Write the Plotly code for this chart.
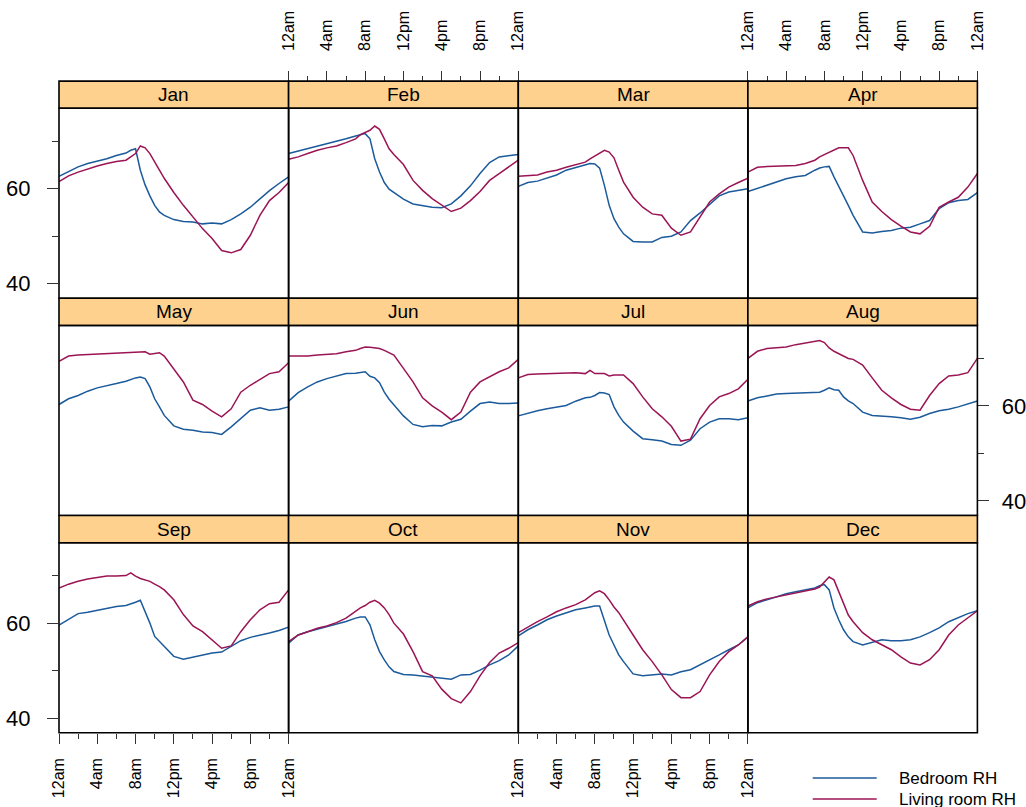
import plotly.graph_objects as go

# ---------------- data ----------------
hours = [0, 1, 2, 3, 4, 5, 6, 7, 7.5, 8, 8.5, 9, 9.5, 10, 10.5, 11,
         12, 13, 14, 15, 16, 17, 18, 19, 20, 21, 22, 23, 24]

months = ["Jan", "Feb", "Mar", "Apr", "May", "Jun",
          "Jul", "Aug", "Sep", "Oct", "Nov", "Dec"]

series_names = ["Bedroom RH", "Living room RH"]

bed_jan = [62.6, 63.65, 64.6, 65.3, 65.8, 66.3, 67.0, 67.5, 68.1, 68.4, 63.9, 60.8, 58.5, 56.5, 55.1, 54.4,
           53.5, 53.1, 53.0, 52.6, 52.8, 52.6, 53.5, 54.7, 56.1, 57.9, 59.6, 61.1, 62.5]
liv_jan = [61.5, 62.7, 63.5, 64.2, 64.8, 65.3, 65.75, 66.0, 66.7, 67.4, 69.0, 68.6, 67.4, 65.5, 63.9, 62.2,
           59.2, 56.5, 54.0, 51.6, 49.5, 47.0, 46.5, 47.2, 50.2, 54.4, 57.5, 59.2, 61.3]

bed_feb = [67.4, 67.9, 68.4, 69.0, 69.5, 70.0, 70.5, 71.1, 71.4, 71.6, 70.5, 66.3, 63.5, 61.3, 59.9, 59.2,
           57.8, 56.8, 56.5, 56.1, 56.0, 56.8, 58.5, 60.6, 63.2, 65.5, 66.7, 67.0, 67.2]
liv_feb = [66.2, 66.7, 67.4, 68.1, 68.6, 69.0, 69.7, 70.5, 71.4, 71.9, 72.3, 73.2, 72.5, 70.5, 68.4, 67.2,
           65.1, 61.75, 59.65, 57.9, 56.5, 55.2, 55.9, 57.5, 59.4, 61.75, 63.2, 64.6, 66.0]

bed_mar = [60.5, 61.3, 61.6, 62.3, 62.9, 63.9, 64.5, 65.05, 65.3, 65.2, 64.35, 60.7, 56.5, 53.7, 51.9, 50.5,
           48.9, 48.8, 48.8, 49.75, 50.0, 50.9, 53.3, 54.9, 56.8, 58.5, 59.3, 59.6, 60.0]
liv_mar = [62.6, 62.7, 62.9, 63.5, 63.9, 64.5, 65.1, 65.6, 66.3, 66.9, 67.4, 68.1, 67.7, 66.5, 63.9, 61.4,
           58.2, 56.1, 54.7, 54.4, 51.7, 50.2, 50.9, 54.0, 57.2, 58.9, 60.35, 61.3, 62.2]

bed_apr = [59.4, 60.1, 60.8, 61.5, 62.1, 62.5, 62.8, 63.9, 64.35, 64.6, 64.7, 62.5, 60.35, 58.5, 56.5, 54.4,
           50.9, 50.7, 51.0, 51.2, 51.7, 51.9, 52.6, 53.3, 55.8, 57.05, 57.5, 57.75, 59.2]
liv_apr = [63.5, 64.5, 64.7, 64.8, 64.8, 64.9, 65.3, 66.0, 66.7, 67.2, 67.6, 68.1, 68.6, 68.6, 68.6, 67.0,
           61.75, 57.2, 55.2, 53.5, 52.1, 50.9, 50.5, 52.1, 56.1, 57.2, 58.2, 60.35, 63.2]

bed_may = [60.3, 61.5, 62.2, 63.1, 63.8, 64.2, 64.7, 65.2, 65.6, 65.9, 66.1, 65.75, 64.0, 61.5, 59.8, 58.0,
           55.8, 55.1, 54.9, 54.5, 54.4, 54.0, 55.6, 57.3, 59.1, 59.6, 59.1, 59.3, 59.8]
liv_may = [69.4, 70.5, 70.7, 70.8, 70.9, 71.0, 71.2, 71.3, 71.4, 71.4, 71.4, 71.4, 70.9, 71.0, 71.2, 70.5,
           67.7, 65.05, 61.2, 60.3, 58.9, 57.7, 59.4, 62.9, 64.35, 65.6, 66.8, 67.2, 69.1]

bed_jun = [61.0, 62.8, 64.0, 65.05, 65.75, 66.3, 66.8, 66.9, 67.0, 67.2, 66.25, 65.9, 64.9, 62.9, 61.4, 60.3,
           57.9, 56.1, 55.6, 55.9, 55.8, 56.6, 57.2, 58.9, 60.5, 60.8, 60.5, 60.5, 60.6]
liv_jun = [70.5, 70.5, 70.5, 70.7, 70.8, 71.0, 71.4, 71.7, 72.1, 72.4, 72.35, 72.2, 72.1, 71.7, 71.2, 70.7,
           67.9, 65.05, 61.7, 60.0, 58.7, 57.1, 58.7, 62.9, 65.05, 66.1, 67.2, 68.0, 69.8]

bed_jul = [57.9, 58.5, 59.0, 59.4, 59.8, 60.1, 61.0, 61.7, 61.8, 62.2, 62.8, 62.7, 62.4, 59.8, 58.0, 56.6,
           54.7, 53.1, 52.9, 52.6, 51.9, 51.7, 52.8, 55.2, 56.6, 57.3, 57.3, 57.1, 57.5]
liv_jul = [65.9, 66.6, 66.7, 66.8, 66.8, 66.9, 67.0, 66.8, 67.5, 66.8, 66.8, 66.8, 66.3, 66.5, 66.5, 66.5,
           64.7, 61.9, 59.4, 57.7, 55.7, 52.6, 53.0, 57.3, 60.1, 61.9, 62.6, 63.6, 65.6]

bed_aug = [61.05, 61.7, 62.1, 62.5, 62.6, 62.7, 62.7, 62.8, 62.9, 63.3, 63.8, 63.4, 63.3, 61.9, 61.05, 60.5,
           58.7, 58.0, 57.9, 57.7, 57.5, 57.2, 57.6, 58.4, 59.0, 59.3, 59.8, 60.4, 61.05]
liv_aug = [70.0, 71.5, 72.1, 72.3, 72.4, 72.9, 73.3, 73.6, 73.75, 73.35, 72.2, 71.5, 71.0, 70.5, 70.0, 69.8,
           68.6, 65.9, 63.3, 61.7, 60.3, 59.3, 59.1, 62.2, 64.7, 66.3, 66.5, 67.0, 70.0]

bed_sep = [59.6, 60.85, 62.0, 62.3, 62.7, 63.0, 63.5, 63.7, 64.0, 64.4, 64.8, 62.5, 60.0, 57.2, 56.1, 55.1,
           53.0, 52.4, 52.8, 53.3, 53.7, 53.9, 55.1, 56.3, 57.0, 57.4, 57.9, 58.45, 59.15]
liv_sep = [67.4, 68.2, 68.8, 69.3, 69.6, 69.9, 69.9, 70.0, 70.6, 69.9, 69.4, 69.15, 68.8, 68.2, 67.7, 67.0,
           64.9, 61.8, 59.4, 58.2, 56.5, 54.7, 55.2, 58.2, 60.7, 62.8, 64.1, 64.4, 67.0]

bed_oct = [55.8, 57.5, 58.2, 58.7, 59.3, 59.8, 60.35, 61.05, 61.3, 61.3, 59.65, 56.5, 54.0, 52.25, 50.8, 49.8,
           49.2, 49.1, 48.9, 48.7, 48.5, 48.2, 49.1, 49.2, 50.1, 51.2, 52.1, 53.3, 55.2]
liv_oct = [56.1, 57.5, 58.2, 58.9, 59.4, 60.1, 61.05, 62.5, 63.2, 63.7, 64.4, 64.8, 64.2, 63.2, 61.8, 60.0,
           57.7, 54.0, 49.8, 48.9, 46.1, 44.1, 43.2, 45.6, 48.9, 51.7, 53.7, 54.7, 55.9]

bed_nov = [57.3, 58.6, 59.6, 60.7, 61.5, 62.2, 62.8, 63.2, 63.4, 63.6, 63.6, 60.7, 57.5, 55.4, 53.3, 51.9,
           49.3, 48.9, 49.1, 49.3, 49.1, 49.75, 50.2, 51.2, 52.3, 53.3, 54.4, 55.4, 57.1]
liv_nov = [58.0, 59.2, 60.3, 61.3, 62.4, 63.2, 63.9, 64.9, 65.75, 66.4, 66.8, 66.2, 64.9, 63.4, 62.2, 60.7,
           57.5, 54.4, 51.9, 49.1, 46.0, 44.3, 44.3, 45.6, 49.1, 51.9, 54.0, 55.4, 57.1]

bed_dec = [63.2, 64.3, 64.9, 65.5, 66.2, 66.6, 67.0, 67.4, 67.85, 68.1, 67.0, 63.2, 60.7, 58.6, 57.1, 56.1,
           55.4, 55.9, 56.5, 56.3, 56.3, 56.5, 57.1, 58.0, 59.0, 60.3, 61.1, 62.0, 62.6]
liv_dec = [63.6, 64.5, 65.1, 65.5, 66.0, 66.4, 66.8, 67.2, 67.6, 68.7, 69.7, 69.1, 66.6, 63.9, 61.7, 60.3,
           58.0, 56.5, 55.4, 54.4, 52.9, 51.6, 51.2, 52.3, 54.4, 57.5, 59.6, 61.1, 62.6]

x_tick_vals = [0, 4, 8, 12, 16, 20, 24]
x_tick_text = ["12am", "4am", "8am", "12pm", "4pm", "8pm", "12am"]
x_minor_vals = [2, 6, 10, 14, 18, 22]
y_tick_vals = [40, 60]
y_tick_text = ["40", "60"]
y_minor_vals = [50, 70]

bedroom = [bed_jan, bed_feb, bed_mar, bed_apr, bed_may, bed_jun,
           bed_jul, bed_aug, bed_sep, bed_oct, bed_nov, bed_dec]
living = [liv_jan, liv_feb, liv_mar, liv_apr, liv_may, liv_jun,
          liv_jul, liv_aug, liv_sep, liv_oct, liv_nov, liv_dec]

# ---------------- styling / layout ----------------
W, H = 1026, 807
FONT = "Liberation Sans, Arial, Helvetica, sans-serif"
BLUE = "#1B5A9B"
RED = "#9B1454"
STRIP = "#FFD18F"

col_edges = [59.0, 288.6, 518.3, 747.9, 977.4]
panel_tops = [108.3, 325.5, 542.7]
panel_h = 190.0
strip_h = 27.2
y_range = [36.93, 76.93]


def px_x(p):
    return p / W


def px_y(p):
    return 1 - p / H


fig = go.Figure()
layout = dict(
    width=W, height=H, autosize=False,
    margin=dict(l=0, r=0, t=0, b=0, pad=0, autoexpand=False),
    paper_bgcolor="white", plot_bgcolor="white",
    showlegend=False,
    font=dict(family=FONT, color="black"),
)
shapes = []
annotations = []

for i, m in enumerate(months):
    r, c = divmod(i, 4)
    k = i + 1
    xa = "x" if k == 1 else f"x{k}"
    ya = "y" if k == 1 else f"y{k}"
    xkey = "xaxis" if k == 1 else f"xaxis{k}"
    ykey = "yaxis" if k == 1 else f"yaxis{k}"
    x0, x1 = col_edges[c], col_edges[c + 1]
    top = panel_tops[r]
    bot = top + panel_h

    fig.add_trace(go.Scatter(x=hours, y=bedroom[i], mode="lines", xaxis=xa, yaxis=ya,
                             name=series_names[0], line=dict(color=BLUE, width=1.5)))
    fig.add_trace(go.Scatter(x=hours, y=living[i], mode="lines", xaxis=xa, yaxis=ya,
                             name=series_names[1], line=dict(color=RED, width=1.5)))

    xaxis = dict(domain=[px_x(x0), px_x(x1)], range=[0, 24], showgrid=False, zeroline=False,
                 showline=False, fixedrange=True, anchor=ya, automargin=False)
    if (r == 2 and c in (0, 2)) or (r == 0 and c in (1, 3)):
        xaxis.update(tickmode="array", tickvals=x_tick_vals, ticktext=x_tick_text,
                     ticks="outside", ticklen=10, tickwidth=1, tickcolor="#333333",
                     tickangle=-90, tickfont=dict(size=16, family=FONT, color="black"),
                     minor=dict(tickmode="array", tickvals=x_minor_vals, ticks="outside",
                                ticklen=5, tickwidth=1, tickcolor="#333333"))
        if r == 0:
            xaxis.update(side="top", anchor="free", position=px_y(top - strip_h),
                         ticklabelstandoff=17)
        else:
            xaxis.update(side="bottom", ticklabelstandoff=8)
    else:
        xaxis.update(showticklabels=False, ticks="")
    layout[xkey] = xaxis

    yaxis = dict(domain=[px_y(bot), px_y(top)], range=y_range, showgrid=False, zeroline=False,
                 showline=False, fixedrange=True, anchor=xa, automargin=False)
    if (c == 0 and r in (0, 2)) or (c == 3 and r == 1):
        yaxis.update(tickmode="array", tickvals=y_tick_vals, ticktext=y_tick_text,
                     ticks="outside", ticklen=11, tickwidth=1, tickcolor="#333333",
                     tickfont=dict(size=22, family=FONT, color="black"),
                     minor=dict(tickmode="array", tickvals=y_minor_vals, ticks="outside",
                                ticklen=6, tickwidth=1, tickcolor="#333333"))
        if c == 0:
            yaxis.update(side="left", ticklabelstandoff=12)
        else:
            yaxis.update(side="right", ticklabelstandoff=8)
    else:
        yaxis.update(showticklabels=False, ticks="")
    layout[ykey] = yaxis

    # strip
    shapes.append(dict(type="rect", xref="paper", yref="paper",
                       x0=px_x(x0), x1=px_x(x1), y0=px_y(top), y1=px_y(top - strip_h),
                       fillcolor=STRIP, line=dict(color="black", width=1.6), layer="above"))
    # panel frame
    shapes.append(dict(type="rect", xref="paper", yref="paper",
                       x0=px_x(x0), x1=px_x(x1), y0=px_y(bot), y1=px_y(top),
                       fillcolor="rgba(0,0,0,0)", line=dict(color="black", width=1.6), layer="above"))
    annotations.append(dict(text=m, xref="paper", yref="paper",
                            x=px_x((x0 + x1) / 2), y=px_y(top - strip_h / 2),
                            xanchor="center", yanchor="middle", showarrow=False,
                            font=dict(size=19, family=FONT, color="black")))

# legend (drawn manually at bottom right)
legend_rows = [(778.0, BLUE, series_names[0]), (799.0, RED, series_names[1])]
for yy, col, name in legend_rows:
    shapes.append(dict(type="line", xref="paper", yref="paper",
                       x0=px_x(812.7), x1=px_x(876.7), y0=px_y(yy), y1=px_y(yy),
                       line=dict(color=col, width=1.6)))
    annotations.append(dict(text=name, xref="paper", yref="paper",
                            x=px_x(897), y=px_y(yy), xanchor="left", yanchor="middle",
                            showarrow=False, font=dict(size=17, family=FONT, color="black")))

layout["shapes"] = shapes
layout["annotations"] = annotations
fig.update_layout(**layout)

fig.write_html(
    "out.html",
    config={"displayModeBar": False},
    post_script="document.body.style.margin='0';document.body.style.overflow='hidden';",
)
